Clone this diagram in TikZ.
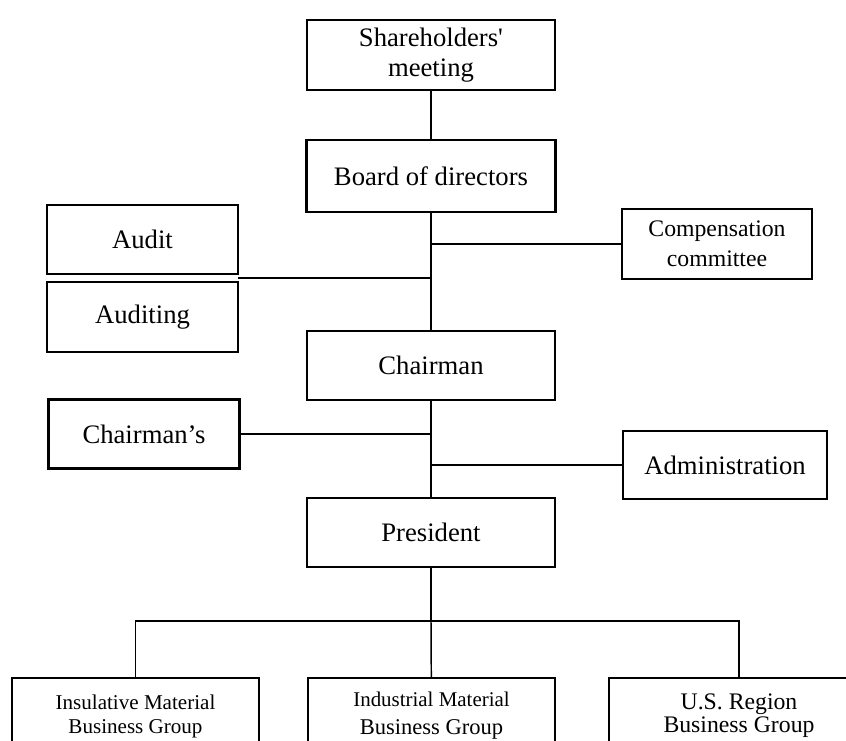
\documentclass[tikz,border=0pt]{standalone}
\usepackage{fontspec}
\setmainfont{Liberation Serif}
\newcommand{\fsz}[2]{\fontsize{#1}{#2}\selectfont}
\tikzset{
	unit/.style={draw, line width=1.8pt, align=center, inner sep=0pt},
	link/.style={line width=1.1pt},
}

\begin{document}
\begin{tikzpicture}[x=0.75pt, y=-0.75pt]
	\useasboundingbox (0,0) rectangle (846,740);
	% upper chain
	\node[unit, minimum width=186pt, minimum height=52.5pt, font=\fsz{20}{22.5}] (share) at (431,55) {Shareholders\textquotesingle\\meeting};
	\node[unit, minimum width=186.75pt, minimum height=54pt, font=\fsz{20}{22.5}] (board) at (431,176) {Board of directors};
	\node[unit, minimum width=143.25pt, minimum height=51.75pt, font=\fsz{20}{22.5}] (audit) at (142.5,239.5) {Audit};
	\node[unit, minimum width=143.25pt, minimum height=52.5pt, font=\fsz{20}{22.5}] (auditing) at (142.5,317) {Auditing};
	\node[unit, minimum width=142.5pt, minimum height=52.5pt, font=\fsz{17.8}{22.5}] (comp) at (717,244) {Compensation\\committee};
	\node[unit, minimum width=186pt, minimum height=51.75pt, font=\fsz{20}{22.5}] (chair) at (431,365.5) {Chairman};
	\node[unit, minimum width=143.25pt, minimum height=51.75pt, font=\fsz{20}{22.5}] (chairs) at (144,434) {Chairman’s};
	\node[unit, minimum width=153pt, minimum height=51pt, font=\fsz{20}{22.5}] (admin) at (725,465) {Administration};
	\node[unit, minimum width=186pt, minimum height=51.75pt, font=\fsz{20}{22.5}] (pres) at (431,532.5) {President};
	% business groups (cut by the page edge)
	\node[unit, minimum width=185.25pt, minimum height=57pt, font=\fsz{15.8}{18}] (insu) at (135.5,716) {Insulative Material\\Business Group};
	\node[unit, minimum width=185.25pt, minimum height=57pt, font=\fsz{15.7}{21}] (indu) at (431.5,716) {Industrial Material\\\fsz{16.9}{21}Business Group};
	\node[unit, minimum width=195pt, minimum height=57pt, font=\fsz{17.8}{17.3}] (usreg) at (739,716) {U.S. Region\\Business Group};
	\coordinate (auditj) at (238,278);
	\coordinate (bus) at (431,621);
	% connectors
	\draw[link] (share) -- (board);
	\draw[link] (board) -- (chair);
	\draw[link] (auditj) -- (auditj -| board.south);
	\draw[link] (comp.west) -- (comp.west -| board.south);
	\draw[link] (chair) -- (pres);
	\draw[link] (chairs.east) -- (chairs.east -| chair.south);
	\draw[link] (admin.west) -- (admin.west -| chair.south);
	\draw[link] (pres) -- (bus);
	\draw[link] (bus) -- (indu);
	\draw[link] (insu.north) |- (bus) -| (usreg.north);
\end{tikzpicture}
\end{document}
